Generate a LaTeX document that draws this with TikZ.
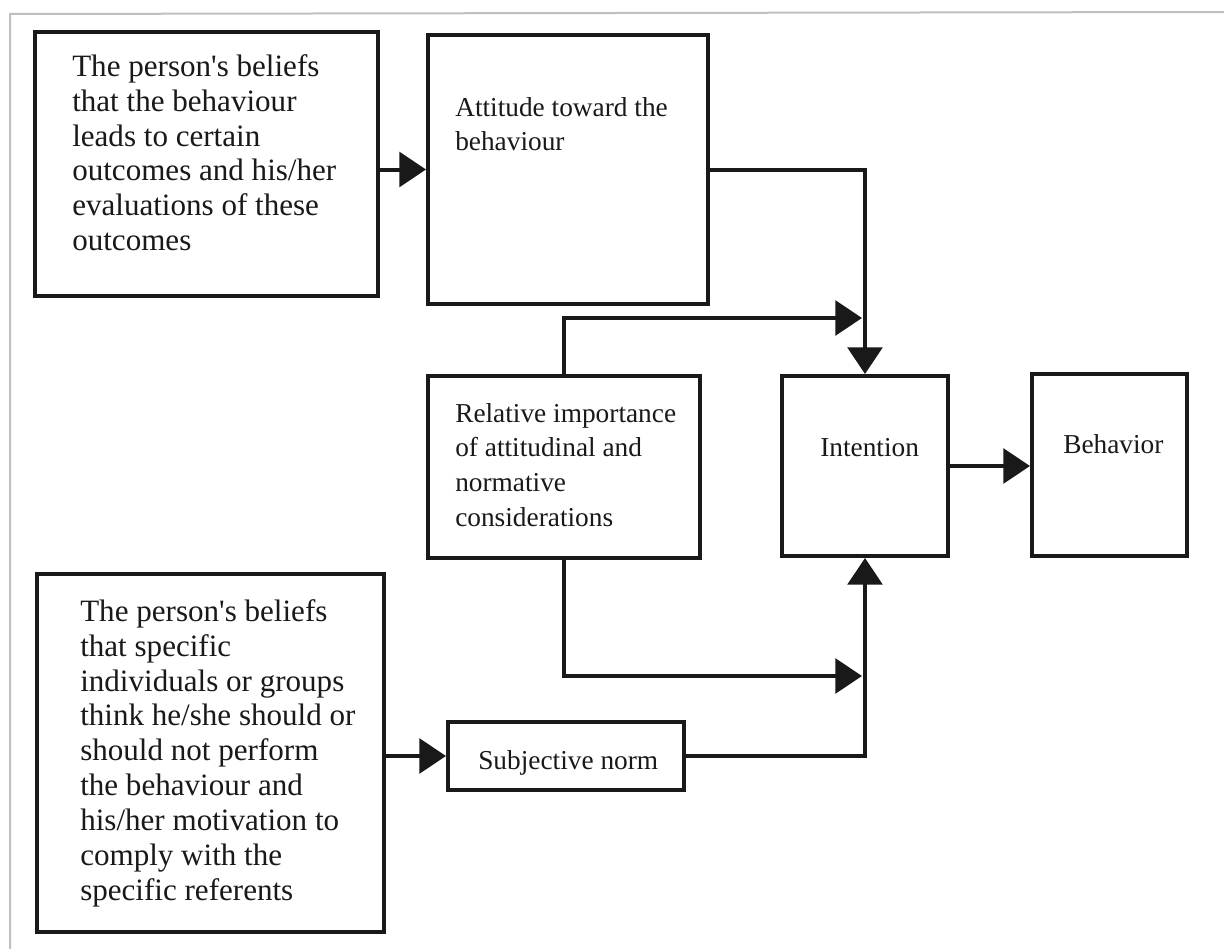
\documentclass[tikz,border=0pt]{standalone}
\usepackage{fontspec}
\setmainfont{Liberation Serif}
\usetikzlibrary{arrows.meta,fit,calc}
\begin{document}
\begin{tikzpicture}[x=0.75pt,y=-0.75pt,
  box/.style={draw=black!90, line width=3pt, inner sep=0pt},
  txt/.style={anchor=north west, inner sep=0pt, align=left, text=black!90},
  bigtxt/.style={txt, font=\fontsize{23.3}{26.2}\selectfont},
  smtxt/.style={txt, font=\fontsize{20.5}{26}\selectfont},
  arr/.style={line width=3pt, draw=black!90, -{Triangle[length=20pt,width=26pt]}}]
\useasboundingbox (0,0) rectangle (1224,949);
\fill[white] (0,0) rectangle (1224,949);
\draw[black!25, line width=1.5pt] (10,949) -- (10,14) -- (1224,12);

% boxes
\node[box, fit={(35,32) (378,296)}] (b1) {};
\node[box, fit={(428,35) (708,304)}] (att) {};
\node[box, fit={(428,376) (700,558)}] (rel) {};
\node[box, fit={(782,376) (948,556)}] (int) {};
\node[box, fit={(1032,374) (1187,556)}] (beh) {};
\node[box, fit={(448,722) (684,790)}] (sn) {};
\node[box, fit={(37,574) (384,932)}] (b2) {};

% texts
\node[bigtxt] (b1t) at (72,54) {The person\textquotesingle s beliefs\\that the behaviour\\leads to certain\\outcomes and his/her\\evaluations of these\\outcomes};
\node[smtxt] (attt) at (455,97) {Attitude toward the\\behaviour};
\node[smtxt] (relt) at (455,403) {Relative importance\\of attitudinal and\\normative\\considerations};
\node[smtxt] (intt) at (820,438) {Intention};
\node[smtxt] (beht) at (1063,434) {Behavior};
\node[smtxt] (snt) at (478,750) {Subjective norm};
\node[bigtxt] (b2t) at (80,599) {The person\textquotesingle s beliefs\\that specific\\individuals or groups\\think he/she should or\\should not perform\\the behaviour and\\his/her motivation to\\comply with the\\specific referents};

% free ends
\coordinate (t1) at (862,318);
\coordinate (t2) at (862,676);

% connectors
\draw[arr] (b1.east |- att.west) -- (att.west);
\draw[arr] (att.east) -- (int.north |- att.east) -- (int.north);
\draw[arr] (rel.north) -- (rel.north |- t1) -- (t1);
\draw[arr] (rel.south) -- (rel.south |- t2) -- (t2);
\draw[arr] (sn.east) -- (int.south |- sn.east) -- (int.south);
\draw[arr] (b2.east |- sn.west) -- (sn.west);
\draw[arr] (int.east) -- (beh.west |- int.east);
\end{tikzpicture}
\end{document}
